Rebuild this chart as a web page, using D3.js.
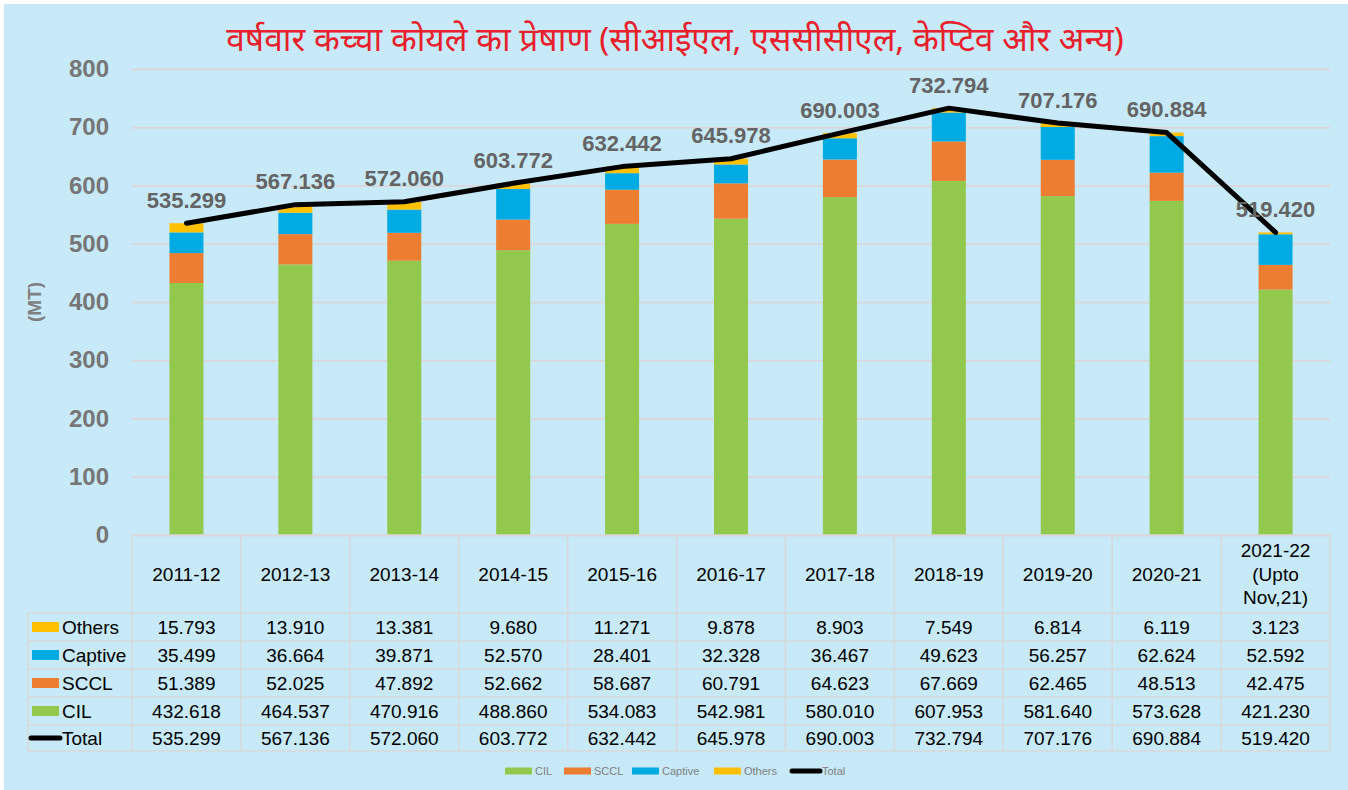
<!DOCTYPE html>
<html>
<head>
<meta charset="utf-8">
<script src="https://cdn.jsdelivr.net/npm/d3@7"></script>
<style>
  body { margin: 0; background: #fff; }
  text { font-family: "Liberation Sans", Arial, sans-serif; }
</style>
</head>
<body>
<script>
/* global d3 */
var width  = 1348;
var height = 790;

var years   = ['2011-12', '2012-13', '2013-14', '2014-15', '2015-16', '2016-17',
               '2017-18', '2018-19', '2019-20', '2020-21', '2021-22'];
var yearLabels = [['2011-12'], ['2012-13'], ['2013-14'], ['2014-15'], ['2015-16'],
               ['2016-17'], ['2017-18'], ['2018-19'], ['2019-20'], ['2020-21'],
               ['2021-22', '(Upto', 'Nov,21)']];
var cil     = [432.618, 464.537, 470.916, 488.860, 534.083, 542.981, 580.010, 607.953, 581.640, 573.628, 421.230];
var sccl    = [51.389, 52.025, 47.892, 52.662, 58.687, 60.791, 64.623, 67.669, 62.465, 48.513, 42.475];
var captive = [35.499, 36.664, 39.871, 52.570, 28.401, 32.328, 36.467, 49.623, 56.257, 62.624, 52.592];
var others  = [15.793, 13.910, 13.381, 9.680, 11.271, 9.878, 8.903, 7.549, 6.814, 6.119, 3.123];
var total   = [535.299, 567.136, 572.060, 603.772, 632.442, 645.978, 690.003, 732.794, 707.176, 690.884, 519.420];
var yTicks  = [0, 100, 200, 300, 400, 500, 600, 700, 800];

var seriesKeys   = ['CIL', 'SCCL', 'Captive', 'Others'];
var seriesColors = { CIL: '#92C84B', SCCL: '#ED7D31', Captive: '#00ABE3', Others: '#FFC000' };
var seriesValues = { CIL: cil, SCCL: sccl, Captive: captive, Others: others };

var plotLeft = 132, plotRight = 1330, plotTop = 69, plotBottom = 535;
var gridColor = '#D9D9D9';

var svg = d3.select('body').append('svg')
  .attr('width', width)
  .attr('height', height)
  .attr('viewBox', [0, 0, width, height].join(' '));

svg.append('rect')
  .attr('x', 4).attr('y', 4)
  .attr('width', width - 4).attr('height', height - 4)
  .attr('fill', '#C7E9F8');

// title
svg.append('text')
  .attr('x', 675).attr('y', 38)
  .attr('text-anchor', 'middle')
  .attr('dominant-baseline', 'central')
  .attr('fill', '#E8202A')
  .style('font-family', '"Noto Sans", sans-serif')
  .style('font-size', '33.5px')
  .text('वर्षवार कच्चा कोयले का प्रेषाण (सीआईएल, एससीसीएल, केप्टिव और अन्य)');

var x = d3.scaleBand().domain(years).range([plotLeft, plotRight]).padding(0);
var y = d3.scaleLinear().domain([0, 800]).range([plotBottom, plotTop]);
var barWidth = 34;

// grid
svg.append('g')
  .attr('transform', 'translate(' + plotLeft + ',0)')
  .call(d3.axisLeft(y).tickValues(yTicks).tickSize(-(plotRight - plotLeft)).tickFormat(''))
  .call(function (g) {
    g.select('.domain').remove();
    g.selectAll('.tick line').attr('stroke', gridColor).attr('stroke-width', 2);
  });

// y axis labels
svg.append('g')
  .attr('transform', 'translate(109,0)')
  .call(d3.axisLeft(y).tickValues(yTicks).tickSize(0).tickPadding(0))
  .call(function (g) {
    g.select('.domain').remove();
    g.selectAll('.tick text')
      .attr('fill', '#767676')
      .style('font-size', '24px')
      .style('font-weight', 'bold')
      .style('font-family', '"Liberation Sans", Arial, sans-serif');
  });

svg.append('text')
  .attr('transform', 'translate(34,302) rotate(-90)')
  .attr('text-anchor', 'middle')
  .attr('dominant-baseline', 'central')
  .attr('fill', '#808080')
  .style('font-size', '19px')
  .style('font-weight', 'bold')
  .text('(MT)');

// stacked bars
var rows = years.map(function (yr, i) {
  var r = { year: yr };
  seriesKeys.forEach(function (k) { r[k] = seriesValues[k][i]; });
  return r;
});
var stack = d3.stack().keys(seriesKeys)(rows);

svg.append('g').selectAll('g')
  .data(stack)
  .enter().append('g')
  .attr('fill', function (d) { return seriesColors[d.key]; })
  .selectAll('rect')
  .data(function (d) { return d; })
  .enter().append('rect')
  .attr('x', function (d) { return x(d.data.year) + x.bandwidth() / 2 - barWidth / 2; })
  .attr('y', function (d) { return y(d[1]); })
  .attr('width', barWidth)
  .attr('height', function (d) { return y(d[0]) - y(d[1]); });

// total line
var line = d3.line()
  .x(function (d, i) { return x(years[i]) + x.bandwidth() / 2; })
  .y(function (d) { return y(d); });

svg.append('path')
  .datum(total)
  .attr('d', line)
  .attr('fill', 'none')
  .attr('stroke', '#000')
  .attr('stroke-width', 5)
  .attr('stroke-linejoin', 'round')
  .attr('stroke-linecap', 'round');

svg.append('g').selectAll('text')
  .data(total)
  .enter().append('text')
  .attr('x', function (d, i) { return x(years[i]) + x.bandwidth() / 2; })
  .attr('y', function (d) { return y(d) - 23; })
  .attr('text-anchor', 'middle')
  .attr('dominant-baseline', 'central')
  .attr('fill', '#646464')
  .style('font-size', '22px')
  .style('font-weight', 'bold')
  .text(function (d) { return d.toFixed(3); });

// data table
var tableLeft = 28;
var headerBottom = 613;
var rowEdges = [613, 641, 669, 697, 725, 751];
var tableRows = [
  { name: 'Others', values: others, color: seriesColors.Others },
  { name: 'Captive', values: captive, color: seriesColors.Captive },
  { name: 'SCCL', values: sccl, color: seriesColors.SCCL },
  { name: 'CIL', values: cil, color: seriesColors.CIL },
  { name: 'Total', values: total, color: '#000', isLine: true }
];

var table = svg.append('g')
  .attr('stroke', gridColor)
  .attr('stroke-width', 1.5);

table.append('line')
  .attr('x1', plotLeft).attr('x2', plotRight)
  .attr('y1', plotBottom).attr('y2', plotBottom);

rowEdges.forEach(function (ry) {
  table.append('line')
    .attr('x1', tableLeft).attr('x2', plotRight)
    .attr('y1', ry).attr('y2', ry);
});

years.forEach(function (yr) {
  table.append('line')
    .attr('x1', x(yr)).attr('x2', x(yr))
    .attr('y1', plotBottom).attr('y2', rowEdges[rowEdges.length - 1]);
});
table.append('line')
  .attr('x1', plotRight).attr('x2', plotRight)
  .attr('y1', plotBottom).attr('y2', rowEdges[rowEdges.length - 1]);
table.append('line')
  .attr('x1', tableLeft).attr('x2', tableLeft)
  .attr('y1', headerBottom).attr('y2', rowEdges[rowEdges.length - 1]);

// header
var header = svg.append('g').selectAll('text')
  .data(yearLabels)
  .enter().append('text')
  .attr('text-anchor', 'middle')
  .attr('fill', '#000')
  .style('font-size', '19px');

header.each(function (lines, i) {
  var cx = x(years[i]) + x.bandwidth() / 2;
  var cy = (plotBottom + headerBottom) / 2;
  var lh = 23.5;
  var start = cy - (lines.length - 1) * lh / 2;
  d3.select(this).selectAll('tspan')
    .data(lines)
    .enter().append('tspan')
    .attr('x', cx)
    .attr('y', function (d, j) { return start + j * lh; })
    .attr('dy', '0.35em')
    .text(function (d) { return d; });
});

tableRows.forEach(function (row, r) {
  var cy = (rowEdges[r] + rowEdges[r + 1]) / 2;
  if (row.isLine) {
    svg.append('line')
      .attr('x1', 31).attr('x2', 60)
      .attr('y1', cy).attr('y2', cy)
      .attr('stroke', row.color)
      .attr('stroke-width', 5)
      .attr('stroke-linecap', 'round');
  } else {
    svg.append('rect')
      .attr('x', 32).attr('y', cy - 5)
      .attr('width', 27).attr('height', 10)
      .attr('fill', row.color);
  }
  svg.append('text')
    .attr('x', 62).attr('y', cy)
    .attr('dy', '0.35em')
    .attr('fill', '#000')
    .style('font-size', '19px')
    .text(row.name);

  svg.append('g').selectAll('text')
    .data(row.values)
    .enter().append('text')
    .attr('x', function (d, i) { return x(years[i]) + x.bandwidth() / 2; })
    .attr('y', cy)
    .attr('dy', '0.35em')
    .attr('text-anchor', 'middle')
    .attr('fill', '#000')
    .style('font-size', '19px')
    .text(function (d) { return d.toFixed(3); });
});

// bottom legend
var legendItems = [
  { name: 'CIL', x: 505, color: seriesColors.CIL },
  { name: 'SCCL', x: 564, color: seriesColors.SCCL },
  { name: 'Captive', x: 632, color: seriesColors.Captive },
  { name: 'Others', x: 714, color: seriesColors.Others },
  { name: 'Total', x: 790, color: '#000', isLine: true }
];
var legendY = 771;
var legend = svg.append('g').selectAll('g')
  .data(legendItems)
  .enter().append('g')
  .attr('transform', function (d) { return 'translate(' + d.x + ',' + legendY + ')'; });

legend.each(function (d) {
  var g = d3.select(this);
  if (d.isLine) {
    g.append('line')
      .attr('x1', 2).attr('x2', 30)
      .attr('stroke', d.color)
      .attr('stroke-width', 5)
      .attr('stroke-linecap', 'round');
    g.append('text')
      .attr('x', 32).attr('dy', '0.35em')
      .attr('fill', '#808080')
      .style('font-size', '11px')
      .text(d.name);
  } else {
    g.append('rect')
      .attr('x', 0).attr('y', -3.5)
      .attr('width', 27).attr('height', 7)
      .attr('fill', d.color);
    g.append('text')
      .attr('x', 30).attr('dy', '0.35em')
      .attr('fill', '#808080')
      .style('font-size', '11px')
      .text(d.name);
  }
});
</script>
</body>
</html>
